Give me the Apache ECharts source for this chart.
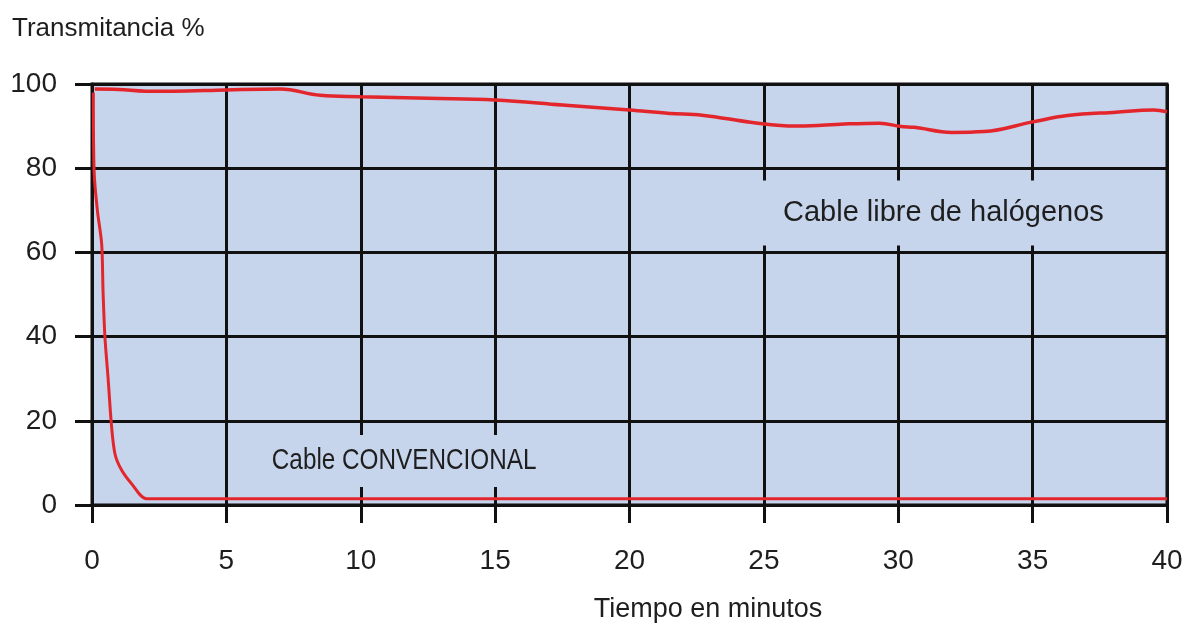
<!DOCTYPE html>
<html>
<head>
<meta charset="utf-8">
<script src="https://cdn.jsdelivr.net/npm/echarts@6/dist/echarts.min.js"></script>
<style>
html,body{margin:0;padding:0;background:#fff;}
#c{width:1186px;height:626px;}
</style>
</head>
<body>
<div id="c"></div>
<script>
// Data
const xTicks = [0, 5, 10, 15, 20, 25, 30, 35, 40];
const yTicks = [0, 20, 40, 60, 80, 100];

const convTime  = [0.05, 0.08, 0.2, 0.36, 0.41, 0.48, 0.6, 0.73, 0.86, 1.1, 1.48, 2.03, 5, 10, 15, 20, 25, 30, 35, 40];
const convValue = [98, 79, 70, 62, 51, 40, 30, 18.5, 12, 8.3, 5, 1.5, 1.5, 1.5, 1.5, 1.5, 1.5, 1.5, 1.5, 1.5];

const halTime  = [0.1, 1, 2, 3, 5, 7, 8.5, 10, 12.5, 15, 17.5, 20, 21.5, 22.7, 24.5, 25.5, 26.3, 28, 29.3, 30.1, 30.6, 32, 33.2, 35, 36.3, 38.1, 39.5, 40];
const halValue = [98.8, 98.7, 98.3, 98.3, 98.6, 98.8, 97.3, 97, 96.6, 96.2, 95, 93.8, 93, 92.6, 90.9, 90.2, 90, 90.5, 90.7, 89.9, 89.7, 88.5, 88.7, 91, 92.5, 93.3, 93.8, 93.4];

const zip = (a, b) => a.map((v, i) => [v, b[i]]);

const FONT = '"Liberation Sans", Arial, Helvetica, sans-serif';
const TXT = '#1e1e1e';
const PLOT_BG = '#c6d4ec';

const chart = echarts.init(document.getElementById('c'), null, {renderer: 'canvas'});
chart.setOption({
  animation: false,
  backgroundColor: '#ffffff',
  grid: {
    left: 92, right: 19, top: 84, bottom: 121,
    show: true,
    backgroundColor: PLOT_BG,
    borderColor: '#111111',
    borderWidth: 3
  },
  xAxis: {
    type: 'value',
    min: 0, max: 40, interval: 5,
    axisLine: {show: true, lineStyle: {color: '#111', width: 3}},
    axisTick: {show: true, inside: false, length: 18, lineStyle: {color: '#111', width: 3}},
    splitLine: {show: true, lineStyle: {color: '#111', width: 3}},
    axisLabel: {
      margin: 42, color: TXT, fontSize: 28, fontFamily: FONT,
      formatter: v => xTicks.includes(v) ? String(v) : ''
    }
  },
  yAxis: {
    type: 'value',
    min: 0, max: 100, interval: 20,
    axisLine: {show: true, lineStyle: {color: '#111', width: 3}},
    axisTick: {show: true, inside: false, length: 17, lineStyle: {color: '#111', width: 3}},
    splitLine: {show: true, lineStyle: {color: '#111', width: 3}},
    axisLabel: {
      margin: 35, color: TXT, fontSize: 28, fontFamily: FONT,
      formatter: v => yTicks.includes(v) ? String(v) : ''
    }
  },
  graphic: [
    {type: 'text', x: 12, y: 29, z: 10,
     style: {text: 'Transmitancia %', fontSize: 26, fontFamily: FONT, fill: TXT, textVerticalAlign: 'middle'}},
    {type: 'text', x: 708, y: 610, z: 10,
     style: {text: 'Tiempo en minutos', fontSize: 27, fontFamily: FONT, fill: TXT, textAlign: 'center', textVerticalAlign: 'middle'}},
    {type: 'text', x: 758, y: 213, z: 10,
     style: {text: 'Cable libre de halógenos', fontSize: 29, fontFamily: FONT, fill: TXT,
             textAlign: 'left', textVerticalAlign: 'middle',
             backgroundColor: PLOT_BG, padding: [18, 20, 18, 25]}},
    {type: 'group', x: 254, y: 461, z: 10, scaleX: 0.81, children: [
      {type: 'text', x: 0, y: 0, z: 10,
       style: {text: 'Cable CONVENCIONAL', fontSize: 30, fontFamily: FONT, fill: TXT,
               textAlign: 'left', textVerticalAlign: 'middle',
               backgroundColor: PLOT_BG, padding: [11, 22, 11, 22]}}
    ]}
  ],
  series: [
    {
      name: 'Cable CONVENCIONAL',
      type: 'line',
      data: zip(convTime, convValue),
      showSymbol: false,
      smooth: 0.3,
      lineStyle: {color: '#e3262b', width: 3},
      z: 5
    },
    {
      name: 'Cable libre de halógenos',
      type: 'line',
      data: zip(halTime, halValue),
      showSymbol: false,
      smooth: 0.4,
      lineStyle: {color: '#e3262b', width: 3.5},
      z: 5
    }
  ]
});
</script>
</body>
</html>
